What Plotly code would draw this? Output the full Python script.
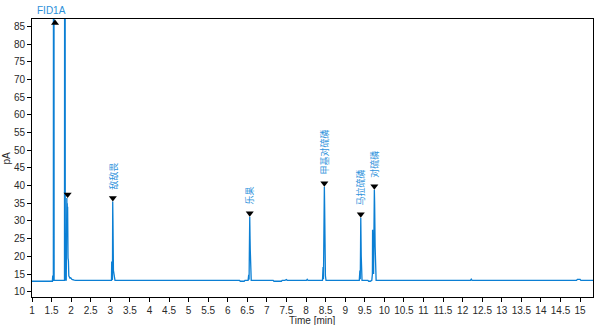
import plotly.graph_objects as go

# ---- chromatogram trace (time in min, signal in pA) ----
time = [1.0, 1.52, 1.53, 1.535, 1.545, 1.55, 1.56, 1.565, 1.83, 1.835, 1.845, 1.85,
        1.875, 1.885, 1.89, 1.895, 1.90, 1.905, 1.91, 1.915, 1.92, 1.93, 1.94, 1.955,
        1.97, 1.99, 2.02, 2.08, 2.12,
        3.03, 3.036, 3.045, 3.055, 3.062, 3.068, 3.08, 3.095, 3.105, 3.12,
        6.30, 6.32, 6.42, 6.44,
        6.52, 6.535, 6.545, 6.555, 6.562, 6.57, 6.575, 6.585, 6.60,
        7.16, 7.18, 7.37, 7.39, 7.46, 7.48, 7.50, 7.52,
        8.01, 8.03, 8.05,
        8.42, 8.435, 8.445, 8.455, 8.468, 8.475, 8.485, 8.495, 8.51,
        9.36, 9.375, 9.385, 9.392, 9.398, 9.41, 9.42, 9.43,
        9.58, 9.60, 9.64, 9.66,
        9.68, 9.695, 9.70, 9.71, 9.725, 9.745, 9.752, 9.765, 9.775, 9.79,
        12.20, 12.22, 12.24,
        14.91, 14.93, 15.0, 15.02, 15.33]
signal = [12.95, 12.95, 14.6, 13.0, 13.0, 150, 150, 13.2, 13.2, 150, 150, 13.3,
          13.3, 30.0, 36.5, 29.0, 35.0, 31.0, 34.0, 27.0, 19.5, 18.8, 14.5, 14.2,
          13.8, 13.9, 13.5, 13.3, 13.2,
          13.2, 18.5, 13.5, 13.4, 35.5, 30.0, 16.0, 14.8, 13.3, 13.2,
          13.2, 12.95, 12.95, 13.2,
          13.2, 14.8, 13.4, 20.0, 31.2, 25.0, 22.0, 14.0, 13.2,
          13.2, 12.95, 12.95, 13.2, 13.2, 13.45, 13.45, 13.2,
          13.2, 13.5, 13.2,
          13.2, 17.0, 13.5, 33.0, 39.7, 34.0, 20.0, 14.5, 13.2,
          13.2, 16.0, 13.5, 22.0, 30.9, 20.0, 14.0, 13.2,
          13.2, 12.95, 12.95, 13.2,
          13.2, 15.0, 27.5, 18.0, 15.0, 38.8, 35.0, 22.7, 15.0, 13.2,
          13.2, 13.55, 13.2,
          13.2, 13.5, 13.5, 13.2, 13.2]

# ---- peak marks ----
peak_times = [1.91, 3.065, 6.562, 8.468, 9.398, 9.745]
peak_heights = [36.5, 35.5, 31.2, 39.7, 30.9, 38.8]
peak_names = ["", "敌敌畏", "乐果", "甲基对硫磷", "马拉硫磷", "对硫磷"]
offscale_time = [1.588]
offscale_height = [86.0]

# ---- axes ----
x_range = [1.0, 15.33]
y_range = [8.5, 87.1]
x_ticks = [1 + 0.5 * i for i in range(29)]
x_tick_text = ["%g" % v for v in x_ticks]
y_ticks = list(range(10, 90, 5))

W, H = 600, 325
M = dict(l=32, r=7, t=19, b=28, pad=0)
plot_h = H - M["t"] - M["b"]
units_per_px = (y_range[1] - y_range[0]) / plot_h

LINE = "#0b7fd4"
LABEL = "#2f93dc"
TEXT = "#2a2a2a"
FONT = "Liberation Sans, Arial"

fig = go.Figure()
fig.add_trace(go.Scatter(x=time, y=signal, mode="lines",
                         line=dict(color=LINE, width=1.3), hoverinfo="skip",
                         showlegend=False, cliponaxis=True))

msize = 7
tip = msize / 2.0
fig.add_trace(go.Scatter(
    x=peak_times, y=[h + tip * units_per_px for h in peak_heights],
    mode="markers", marker=dict(symbol="triangle-down", size=msize, color="black"),
    showlegend=False, hoverinfo="skip", cliponaxis=False))
fig.add_trace(go.Scatter(
    x=offscale_time, y=offscale_height,
    mode="markers", marker=dict(symbol="triangle-up", size=7, color="black"),
    showlegend=False, hoverinfo="skip", cliponaxis=False))

for t, h, name in zip(peak_times, peak_heights, peak_names):
    if not name:
        continue
    fig.add_annotation(x=t, y=h, text=name, showarrow=False, textangle=-90,
                       xanchor="center", yanchor="bottom", yshift=10,
                       font=dict(family="Noto Sans CJK SC", size=9, color=LABEL))

fig.add_annotation(x=0.005, y=1, xref="paper", yref="paper", text="FID1A",
                   showarrow=False, xanchor="left", yanchor="bottom", yshift=1,
                   font=dict(family=FONT, size=10, color="#2b90d9"))
fig.add_annotation(x=0.5, y=0, xref="paper", yref="paper", text="Time [min]",
                   showarrow=False, xanchor="center", yanchor="top", yshift=-16,
                   font=dict(family=FONT, size=10, color=TEXT))
fig.add_annotation(x=0, y=0.5, xref="paper", yref="paper", text="pA",
                   showarrow=False, xanchor="right", yanchor="middle", xshift=-19,
                   textangle=-90, font=dict(family=FONT, size=10, color=TEXT))

axis_common = dict(showgrid=False, zeroline=False, showline=True, linecolor="black",
                   linewidth=1, mirror=True, ticks="outside", ticklen=4,
                   tickcolor="black", tickwidth=1, automargin=False,
                   tickfont=dict(family=FONT, size=10, color=TEXT))

fig.update_layout(
    width=W, height=H, margin=M, template="none",
    paper_bgcolor="white", plot_bgcolor="white",
    xaxis=dict(range=x_range, tickmode="array", tickvals=x_ticks, ticktext=x_tick_text,
               **axis_common),
    yaxis=dict(range=y_range, tickmode="array", tickvals=y_ticks, **axis_common),
)

fig.write_html("out.html")
